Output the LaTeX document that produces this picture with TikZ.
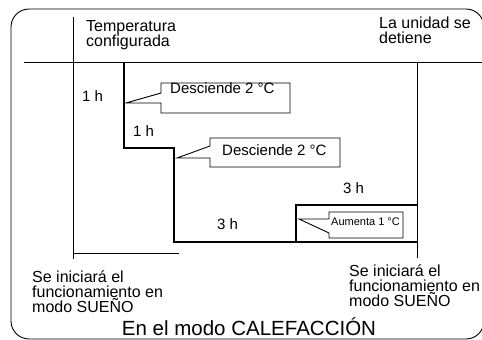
\documentclass[tikz,border=0pt]{standalone}
\usepackage{fontspec}
\setmainfont{Liberation Sans}
\usetikzlibrary{positioning}

\begin{document}
\begin{tikzpicture}[x=1pt, y=-1pt, font=\fontsize{15}{15}\selectfont]
    \tikzstyle{rule} = [draw, line width=0.9pt]
    \tikzstyle{profile} = [draw, line width=2pt]
    \tikzstyle{callout} = [draw, line width=0.9pt, fill=white]
    \tikzstyle{txt} = [inner sep=0pt, align=left]
    \tikzstyle{note} = [txt, anchor=north west, font=\fontsize{16}{15}\selectfont]

    \useasboundingbox (0,0) rectangle (482,340);
    \draw [rule, rounded corners=18] (11,9) rectangle (484,339);

    % axes of the chart
    \coordinate (start) at (73,17);
    \coordinate (startend) at (73,259);
    \coordinate (setl) at (24,62);
    \coordinate (setr) at (484,62);
    \coordinate (stop) at (417,62);
    \coordinate (stopend) at (417,258);
    \coordinate (base) at (179,253);
    \path [rule] (start) -- (startend);
    \path [rule] (setl) -- (setr);
    \path [rule] (stop) -- (stopend);
    \path [rule] (start |- base) -- (base);

    % temperature profile
    \coordinate (p0) at (124,62);
    \coordinate (p1) at (124,148);
    \coordinate (p2) at (174,148);
    \coordinate (p3) at (174,242);
    \coordinate (p4) at (417,242);
    \coordinate (q0) at (296,242);
    \coordinate (q1) at (296,205);
    \coordinate (q2) at (417,205);
    \path [profile] (p0) -- (p1) -- (p2) -- (p3) -- (p4);
    \path [profile] (q0) -- (q1) -- (q2);

    % callouts
    \path [callout] (161,83) -- (290,83) -- (290,113) -- (161,113) -- (161,103) -- (126,103) -- (161,93) -- cycle;
    \path [callout] (210,138) -- (340,138) -- (340,167) -- (210,167) -- (210,158) -- (177,158) -- (210,146) -- cycle;
    \path [callout] (329,212) -- (403,212) -- (403,238) -- (329,238) -- (329,233) -- (299,219) -- (329,219) -- cycle;
    \node [txt, anchor=base west] (down1) at (170,93) {Desciende 2 °C};
    \node [txt, anchor=base west] (down2) at (222,155) {Desciende 2 °C};
    \node [txt, anchor=base west, font=\fontsize{11}{11}\selectfont] (up1) at (331,225) {Aumenta 1 °C};

    % labels
    \node [note] (setting) at (86,20) {Temperatura\\configurada};
    \node [note] (halt) at (379,16.8) {La unidad se\\detiene};
    \node [txt, anchor=base west] (h1) at (82,101.5) {1 h};
    \node [txt, anchor=base west] (h2) at (133,136) {1 h};
    \node [txt, anchor=base west] (h3) at (343,193) {3 h};
    \node [txt, anchor=base west] (h4) at (217,229) {3 h};
    \node [note] (sleepl) at (32,271) {Se iniciará el\\funcionamiento en\\modo SUEÑO};
    \node [note] (sleepr) at (349,264.2) {Se iniciará el\\funcionamiento en\\modo SUEÑO};
    \node [txt, anchor=base, font=\fontsize{20.5}{20}\selectfont] (mode) at (249,335) {En el modo CALEFACCIÓN};
\end{tikzpicture}
\end{document}
